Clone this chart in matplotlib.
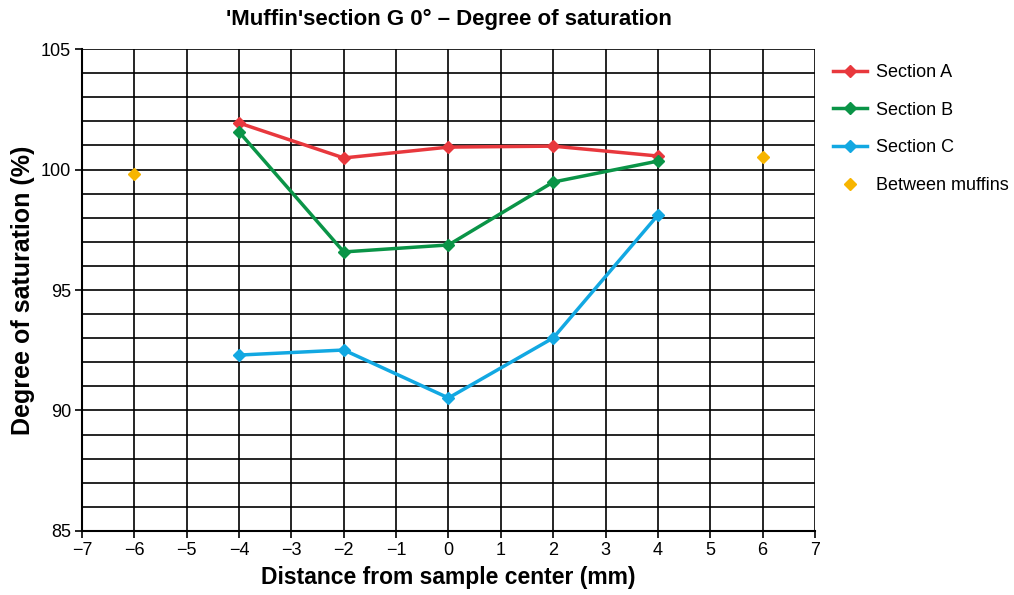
import matplotlib
matplotlib.use("Agg")
import matplotlib.pyplot as plt
from matplotlib.ticker import MultipleLocator

plt.rcParams['font.family'] = ['Liberation Sans', 'DejaVu Sans']

# data
x_sections = [-4, -2, 0, 2, 4]
section_a = [101.93, 100.48, 100.93, 100.97, 100.56]
section_b = [101.56, 96.58, 96.87, 99.48, 100.35]
section_c = [92.30, 92.51, 90.52, 93.01, 98.11]
x_between = [-6, 6]
between = [99.81, 100.52]

fig = plt.figure(figsize=(10.14, 5.95), dpi=100)
ax = fig.add_axes([0.0809, 0.1076, 0.7228, 0.81])

ax.plot(x_sections, section_a, color='#e8383d', lw=2.5, marker='D', ms=6, label='Section A', zorder=3)
ax.plot(x_sections, section_b, color='#0a9447', lw=2.5, marker='D', ms=6, label='Section B', zorder=3)
ax.plot(x_sections, section_c, color='#12a8e2', lw=2.5, marker='D', ms=6, label='Section C', zorder=3)
ax.plot(x_between, between, color='#f7b500', lw=0, marker='D', ms=6, label='Between muffins', zorder=3)

ax.set_xlim(-7, 7)
ax.set_ylim(85, 105)
ax.xaxis.set_major_locator(MultipleLocator(1))
ax.yaxis.set_major_locator(MultipleLocator(5))
ax.yaxis.set_minor_locator(MultipleLocator(1))
ax.grid(True, which='both', color='black', lw=1.2)
ax.set_axisbelow(True)
ax.tick_params(which='major', direction='out', length=5, width=1.2, labelsize=13, colors='black', pad=3)
ax.tick_params(which='minor', length=0)
for s in ['top', 'right']:
    ax.spines[s].set_visible(False)
for s in ['left', 'bottom']:
    ax.spines[s].set_linewidth(1.5)

# proper minus signs
ax.set_xticks(range(-7, 8))
ax.set_xticklabels([('\u2212' + str(-v)) if v < 0 else str(v) for v in range(-7, 8)])

ax.set_title("'Muffin'section G 0\u00b0 \u2013 Degree of saturation", fontsize=16, fontweight='bold', pad=17)
ax.set_xlabel('Distance from sample center (mm)', fontsize=16.5, fontweight='bold', labelpad=5)
ax.set_ylabel('Degree of saturation (%)', fontsize=18, fontweight='bold', labelpad=4)

ax.legend(loc='upper left', bbox_to_anchor=(1.002, 1.003), frameon=False, fontsize=13,
          handlelength=1.9, labelspacing=1.15, handletextpad=0.5)

fig.savefig('out.png', dpi=100)
